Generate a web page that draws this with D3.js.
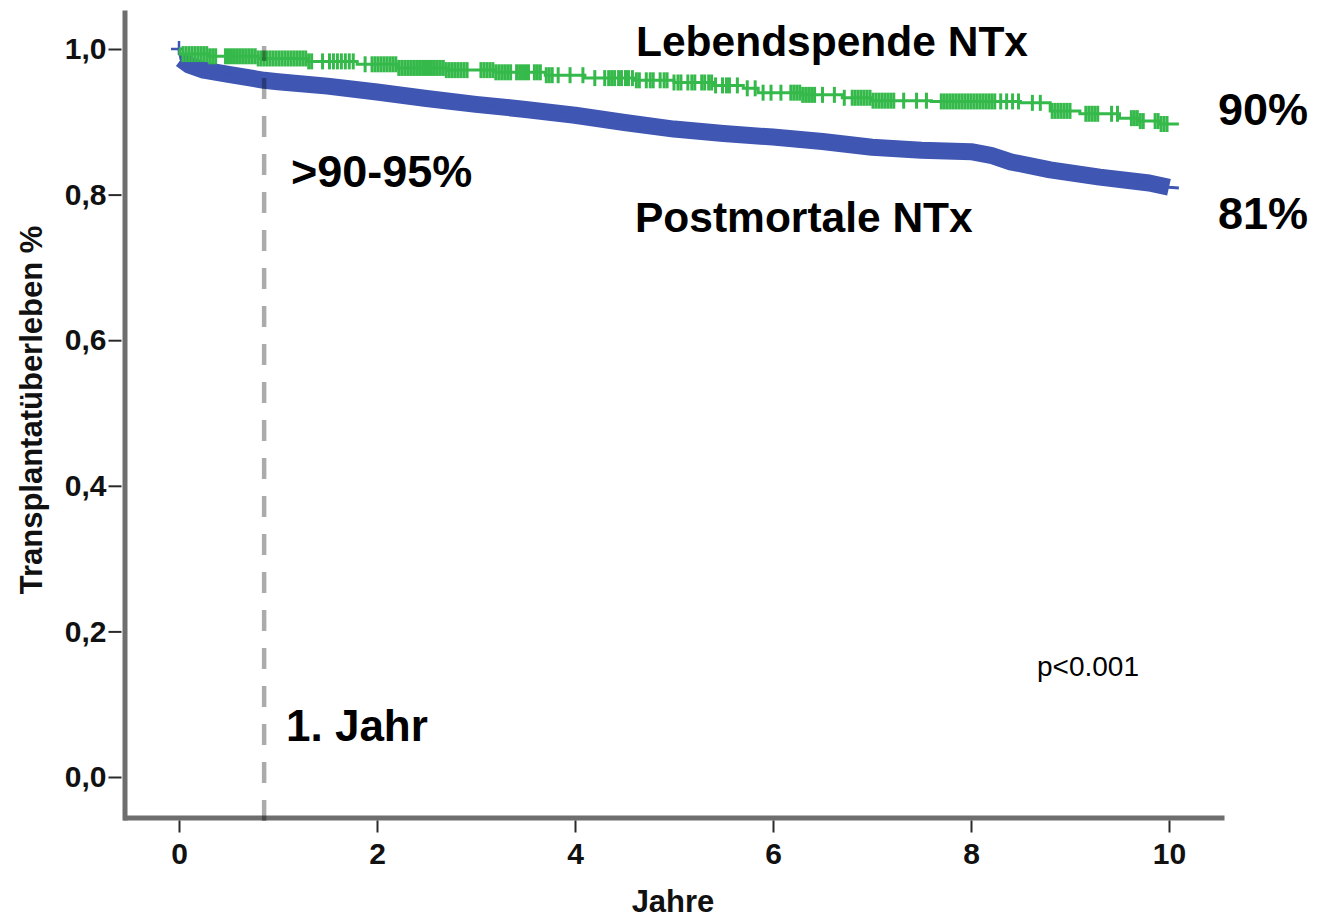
<!DOCTYPE html>
<html>
<head>
<meta charset="utf-8">
<script src="https://cdn.jsdelivr.net/npm/d3@7"></script>
<style>
  body { margin: 0; background: #fff; }
  svg { display: block; font-family: Arial, "Liberation Sans", sans-serif; }
</style>
</head>
<body>
<div id="io"></div>
<script>
// Kaplan-Meier Transplantatüberleben
const xTicks = [0, 2, 4, 6, 8, 10];
const yTicks = [0, 0.2, 0.4, 0.6, 0.8, 1.0];

// postmortale NTx (blue) - [Jahre, Überleben]
const postTimes = [0, 0.02, 0.1, 0.25, 0.5, 0.86, 1.0, 1.5, 2.0, 2.5, 3.0, 3.5, 4.0, 4.5, 5.0, 5.5, 6.0, 6.5, 7.0, 7.5, 8.0, 8.2, 8.4, 8.8, 9.3, 9.8, 10.0, 10.1];
const postSurv  = [1.0, 0.986, 0.978, 0.971, 0.965, 0.957, 0.955, 0.949, 0.941, 0.932, 0.924, 0.917, 0.909, 0.899, 0.89, 0.884, 0.879, 0.873, 0.865, 0.861, 0.859, 0.854, 0.845, 0.834, 0.824, 0.816, 0.81, 0.809];

// Lebendspende NTx (green)
const lebTimes = [0, 0.01, 0.3, 0.8, 1.3, 1.8, 2.2, 2.7, 3.2, 3.7, 4.1, 4.6, 5.0, 5.4, 5.7, 5.85, 6.3, 6.7, 7.0, 7.6, 8.5, 8.8, 9.1, 9.5, 9.7, 9.9, 10.1];
const lebSurv  = [1.0, 0.993, 0.99, 0.987, 0.983, 0.979, 0.974, 0.971, 0.968, 0.964, 0.96, 0.957, 0.954, 0.95, 0.946, 0.94, 0.937, 0.933, 0.929, 0.928, 0.926, 0.915, 0.911, 0.905, 0.901, 0.897, 0.897];
const lebCensor = [
  0.04,0.07,0.1,0.13,0.16,0.19,0.22,0.25,0.28,0.31,0.34,0.37,0.47,0.5,0.53,0.56,0.59,0.62,0.65,0.68,0.71,0.74,0.77,0.8,
  0.83,0.86,0.89,0.92,0.95,0.98,1.01,1.04,1.07,1.1,1.13,1.16,1.19,1.22,1.25,1.28,1.31,1.34,1.45,1.52,1.56,1.6,1.64,1.68,
  1.72,1.76,1.88,1.95,1.98,2.01,2.04,2.07,2.1,2.13,2.16,2.19,2.22,2.25,2.28,2.31,2.34,2.37,2.4,2.43,2.46,2.49,2.52,2.55,
  2.58,2.61,2.64,2.67,2.7,2.73,2.76,2.79,2.82,2.85,2.88,2.91,3.05,3.08,3.11,3.14,3.17,3.2,3.23,3.26,3.29,3.32,3.35,3.41,
  3.44,3.47,3.5,3.53,3.59,3.62,3.65,3.71,3.74,3.77,3.83,3.95,4.08,4.2,4.3,4.34,4.37,4.4,4.44,4.47,4.51,4.54,4.58,4.62,
  4.65,4.72,4.76,4.79,4.86,4.9,4.93,5.0,5.04,5.07,5.14,5.18,5.21,5.28,5.31,5.35,5.38,5.42,5.49,5.53,5.56,5.64,5.74,5.82,
  5.9,5.98,6.08,6.18,6.21,6.24,6.27,6.3,6.33,6.36,6.39,6.42,6.5,6.62,6.72,6.8,6.83,6.86,6.89,6.92,6.95,6.98,7.01,7.04,
  7.07,7.1,7.13,7.16,7.19,7.22,7.32,7.45,7.55,7.7,7.73,7.76,7.79,7.82,7.85,7.88,7.91,7.94,7.97,8.0,8.03,8.06,8.09,8.12,
  8.15,8.18,8.21,8.24,8.3,8.36,8.42,8.48,8.62,8.7,8.82,8.85,8.88,8.91,8.94,8.97,9.0,9.16,9.19,9.22,9.25,9.28,9.42,9.48,
  9.62,9.65,9.68,9.71,9.74,9.86,9.89,9.92,9.95,9.98
];

const yearMark = 0.86;

const W = 1317, H = 918;
const svg = d3.select('#io').append('svg').attr('width', W).attr('height', H);

const x = d3.scaleLinear().domain([0, 10]).range([179, 1169]);
const y = d3.scaleLinear().domain([0, 1]).range([777, 49]);

const blue = '#3f56b3', green = '#35b94a';

// axes (line a bit longer than the data range)
const xAx = x.copy().domain([x.invert(123), x.invert(1224)]).range([123, 1224]);
const yAx = y.copy().domain([y.invert(820), y.invert(10)]).range([820, 10]);
const comma = d3.formatLocale({ decimal: ',', thousands: '.', grouping: [3], currency: ['', ''] });

const gx = svg.append('g').attr('transform', 'translate(0,817.5)')
  .call(d3.axisBottom(xAx).tickValues(xTicks).tickSize(15).tickSizeOuter(0).tickPadding(10).tickFormat(d3.format('d')));
const gy = svg.append('g').attr('transform', 'translate(124.5,0)')
  .call(d3.axisLeft(yAx).tickValues(yTicks).tickSize(16).tickSizeOuter(0).tickPadding(2).tickFormat(comma.format('.1f')));

[gx, gy].forEach(g => {
  g.select('.domain').attr('stroke', '#6e6e6e').attr('stroke-width', 5);
  g.selectAll('.tick line').attr('stroke', '#2a2a2a').attr('stroke-width', 2);
  g.selectAll('.tick text').attr('fill', '#111').style('font-size', '30px').style('font-weight', 'bold')
    .style('font-family', 'Arial, "Liberation Sans", sans-serif');
});
gx.selectAll('.tick line').attr('y1', 3);
gy.selectAll('.tick line').attr('x1', -3);

// curves
const post = postTimes.map((t, i) => [t, postSurv[i]]);
const leb = lebTimes.map((t, i) => [t, lebSurv[i]]);

const line = d3.line().x(d => x(d[0])).y(d => y(d[1]));
const stepLine = d3.line().x(d => x(d[0])).y(d => y(d[1])).curve(d3.curveStepAfter);

// blue: dense censoring makes a solid band
svg.append('path').datum(post.filter(d => d[0] >= 0.02 && d[0] <= 10))
  .attr('d', line).attr('fill', 'none').attr('stroke', blue)
  .attr('stroke-width', 17).attr('stroke-linejoin', 'round');
svg.append('path').datum(post).attr('d', line)
  .attr('fill', 'none').attr('stroke', blue).attr('stroke-width', 3);
svg.append('line').attr('x1', x(0)).attr('x2', x(0))
  .attr('y1', y(1) - 8).attr('y2', y(1) + 6).attr('stroke', blue).attr('stroke-width', 2.5);
svg.append('line').attr('x1', x(0) - 8).attr('x2', x(0) + 4)
  .attr('y1', y(1)).attr('y2', y(1)).attr('stroke', blue).attr('stroke-width', 2.5);

// green
svg.append('path').datum(leb).attr('d', stepLine)
  .attr('fill', 'none').attr('stroke', green).attr('stroke-width', 3);
const bis = d3.bisector(d => d).right;
const survAt = t => lebSurv[Math.max(0, bis(lebTimes, t) - 1)];
svg.append('g').selectAll('line').data(lebCensor).join('line')
  .attr('x1', d => x(d)).attr('x2', d => x(d))
  .attr('y1', d => y(survAt(d)) - 8).attr('y2', d => y(survAt(d)) + 8)
  .attr('stroke', green).attr('stroke-width', 3);

// 1. Jahr marker
svg.append('line').attr('x1', x(yearMark)).attr('x2', x(yearMark))
  .attr('y1', 821).attr('y2', 46)
  .attr('stroke', '#000').attr('stroke-opacity', 0.33).attr('stroke-width', 4.5)
  .attr('stroke-dasharray', '21,17');

// labels
const txt = (s, px, py, size, weight) => svg.append('text').text(s)
  .attr('x', px).attr('y', py).attr('fill', '#000')
  .style('font-size', size + 'px').style('font-weight', weight);

txt('Lebendspende NTx', 636, 56, 42.5, 'bold');
txt('Postmortale NTx', 635, 232, 42.5, 'bold');
txt('90%', 1218, 125, 45, 'bold');
txt('81%', 1218, 229, 45, 'bold');
txt('>90-95%', 291, 187, 45, 'bold');
txt('1. Jahr', 286, 741, 44, 'bold');
txt('p<0.001', 1037, 676, 28, 'normal');

txt('Jahre', 673, 912, 31, 'bold').attr('text-anchor', 'middle').attr('fill', '#111');
svg.append('text').text('Transplantatüberleben %')
  .attr('transform', 'translate(42,410) rotate(-90)')
  .attr('text-anchor', 'middle').attr('fill', '#111')
  .style('font-size', '31px').style('font-weight', 'bold');
</script>
</body>
</html>
